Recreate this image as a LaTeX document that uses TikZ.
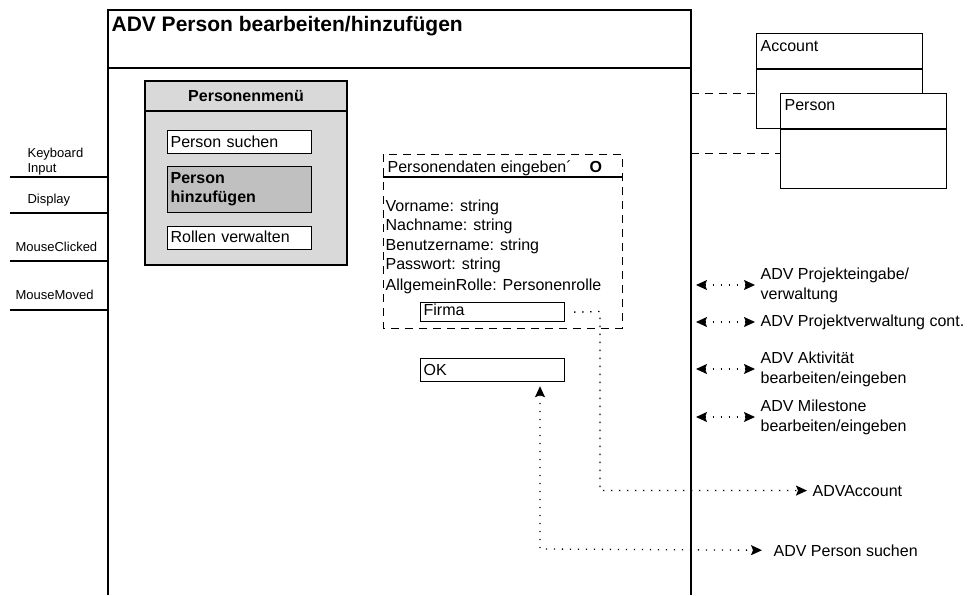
\documentclass[tikz,border=0pt]{standalone}
\usepackage{fontspec}
\setmainfont{Liberation Sans}
\usetikzlibrary{arrows.meta,calc}
\definecolor{menugray}{HTML}{D9D9D9}
\definecolor{selgray}{HTML}{C0C0C0}
\tikzset{head/.tip={Stealth[length=11pt,width=10pt,inset=2pt]}}
\begin{document}
\begin{tikzpicture}[x=1pt,y=-1pt,
  line width=1.2pt,
  body/.style={font=\fontsize{16}{20}\selectfont},
  bbody/.style={font=\fontsize{16}{20}\selectfont\bfseries},
  small/.style={font=\fontsize{13}{16}\selectfont},
  txt/.style={body, inner sep=0pt, anchor=base west},
  stxt/.style={small, inner sep=0pt, anchor=base west},
  field/.style={draw, fill=white, body, anchor=north west, inner xsep=3pt, inner ysep=0pt,
    text width=138pt, align=left},
  classbox/.style={draw, fill=white, anchor=north west, inner sep=0pt,
    minimum width=166pt, minimum height=95pt},
  dashline/.style={line width=1pt, dash pattern=on 8pt off 6pt},
  dotline/.style={line width=1.3pt, dash pattern=on 1.3pt off 6.7pt},
  onetip/.style={dotline, -{head}},
  twotip/.style={dotline, {head}-{head}},
  rlabel/.style={body, inner sep=0pt, anchor=west, align=left},
]
\useasboundingbox (0,0) rectangle (968,595);

% window frame with its title bar
\draw (108,595) -- (108,10) -- (691,10) -- (691,595);
\draw (108,68) -- (691,68);
\node[txt, font=\fontsize{21}{24}\selectfont\bfseries] (title) at (111,31) {ADV Person bearbeiten/hinzufügen};

% input / output events on the left
\foreach \yy in {177,213,261,310} \draw (10,\yy) -- (108,\yy);
\node[stxt] (kb1) at (27,157) {Keyboard};
\node[stxt] (kb2) at (27,172) {Input};
\node[stxt] (disp) at (27,203) {Display};
\node[stxt] (mclick) at (15,251) {MouseClicked};
\node[stxt] (mmove) at (15,299) {MouseMoved};

% person menu
\draw[fill=menugray] (145,81) rectangle (347,265);
\draw (145,111) -- (347,111);
\node[bbody, inner sep=0pt, anchor=base] (menutitle) at (246,101) {Personenmenü};
\node[field, text height=17pt, text depth=6pt] (suchen) at (167,130) {Person suchen};
\node[field, fill=selgray, minimum height=46pt, font=\fontsize{16}{19}\selectfont\bfseries] (hinzu) at (167,166) {Person\\hinzufügen};
\node[field, text height=16pt, text depth=7pt] (rollen) at (167,226) {Rollen verwalten};

% input form for the person data
\draw[dashline] (383,154) rectangle (622,328);
\draw (383,177) -- (622,177);
\node[txt] (formtitle) at (387,172) {Personendaten eingeben´};
\node[bbody, inner sep=0pt, anchor=base west] (formo) at (589,172) {O};
\node[txt] (f1) at (385,211) {Vorname: string};
\node[txt] (f2) at (385,230.5) {Nachname: string};
\node[txt] (f3) at (385,250) {Benutzername: string};
\node[txt] (f4) at (385,269.5) {Passwort: string};
\node[txt] (f5) at (385,290) {AllgemeinRolle: Personenrolle};
\node[field, text height=13pt, text depth=6pt] (firma) at (420,302) {Firma};
\node[field, text height=17pt, text depth=6pt] (ok) at (420,358) {OK};

% classes behind the dialog
\node[classbox] (account) at (756,33) {};
\draw (756,69) -- (922,69);
\node[txt] (acctext) at (760,51) {Account};
\node[classbox] (person) at (780,93) {};
\draw (780,129) -- (946,129);
\node[txt] (pertext) at (784,110) {Person};
\coordinate (d1) at (691,93);
\coordinate (d2) at (691,153);
\draw[dashline] (d1) -- (d1 -| account.west);
\draw[dashline] (d2) -- (d2 -| person.west);

% navigation to other dialogs
\node[rlabel] (l1) at (760,285) {ADV Projekteingabe/\\verwaltung};
\node[rlabel] (l2) at (760,322) {ADV Projektverwaltung cont.};
\node[rlabel] (l3) at (760,369) {ADV Aktivität\\bearbeiten/eingeben};
\node[rlabel] (l4) at (760,417) {ADV Milestone\\bearbeiten/eingeben};
\foreach \n in {1,2,3,4} {
  \coordinate (s\n) at (696,0);
  \draw[twotip, shorten >=5pt] (s\n |- l\n.west) -- (l\n.west);
}

% links from the form fields
\node[txt] (advacc) at (812,496) {ADVAccount};
\node[txt] (advsuch) at (773,556) {ADV Person suchen};
\coordinate (fc) at (600,311.5);
\coordinate (oc) at (540,549);
\draw[onetip, shorten >=5pt] ($(firma.east)+(9,0)$) -- (fc) |- (advacc.west);
\draw[twotip, shorten <=4pt, shorten >=11pt] (ok.south -| oc) -- (oc) -- (advsuch.west);
\end{tikzpicture}
\end{document}
